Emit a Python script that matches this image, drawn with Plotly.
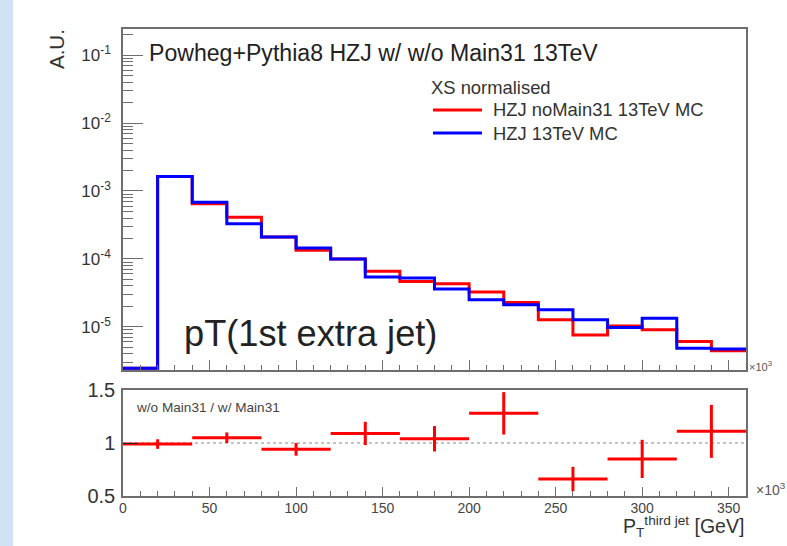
import plotly.graph_objects as go

# ---------------- data ----------------
bin_edges = [0, 20, 40, 60, 80, 100, 120, 140, 160, 180, 200, 220, 240, 260, 280, 300, 320, 340, 360]
# upper panel: normalised distributions (first bin empty -> drawn at frame bottom)
hzj_nomain31 = [2.45e-6, 1.63e-3, 6.48e-4, 4.11e-4, 2.11e-4, 1.34e-4, 1.0e-4, 6.56e-5, 4.67e-5,
                4.31e-5, 3.26e-5, 2.29e-5, 1.27e-5, 7.62e-6, 1.03e-5, 9.03e-6, 6.07e-6, 4.46e-6]
hzj_main31 = [2.45e-6, 1.63e-3, 6.85e-4, 3.29e-4, 2.11e-4, 1.45e-4, 1.0e-4, 5.42e-5, 5.24e-5,
              3.61e-5, 2.51e-5, 2.11e-5, 1.78e-5, 1.27e-5, 9.8e-6, 1.34e-5, 4.84e-6, 4.73e-6]
series_names = ["HZJ noMain31 13TeV MC", "HZJ 13TeV MC"]
series_colors = ["#ff0000", "#0000ff"]
# lower panel: ratio w/o Main31 / w/ Main31 in 40 GeV bins
ratio_x = [20, 60, 100, 140, 180, 220, 260, 300, 340]
ratio_xerr = [20, 20, 20, 20, 20, 20, 20, 20, 20]
ratio_y = [0.99, 1.05, 0.94, 1.09, 1.04, 1.28, 0.66, 0.85, 1.11]
ratio_yerr = [0.045, 0.05, 0.06, 0.11, 0.12, 0.20, 0.115, 0.18, 0.25]

y_major = [1e-5, 1e-4, 1e-3, 1e-2, 1e-1]
y_major_text = ["10<sup>-5</sup>", "10<sup>-4</sup>", "10<sup>-3</sup>", "10<sup>-2</sup>", "10<sup>-1</sup>"]
y_minor = [m * d for d in [1e-6, 1e-5, 1e-4, 1e-3, 1e-2, 1e-1] for m in range(2, 10)]
ratio_ticks = [0.5, 1, 1.5]
ratio_ticktext = ["0.5", "1", "1.5"]
x_ticks = [0, 50, 100, 150, 200, 250, 300, 350]

FONT = "Liberation Sans, Arial, sans-serif"
W, H = 787, 546
L, R, T, B = 123, 746, 29, 496


def px(x):
    return (x - L) / (R - L)


def py(y):
    return (B - y) / (B - T)


fig = go.Figure()

for vals, name, col in zip([hzj_nomain31, hzj_main31], series_names, series_colors):
    fig.add_trace(go.Scatter(x=bin_edges, y=vals + [vals[-1]], mode="lines",
                             line=dict(color=col, width=3, shape="hv"),
                             name=name, xaxis="x", yaxis="y", showlegend=False))

fig.add_trace(go.Scatter(x=ratio_x, y=ratio_y, mode="markers",
                         marker=dict(color="#ff0000", size=3),
                         error_x=dict(type="data", array=ratio_xerr, color="#ff0000", thickness=3, width=0),
                         error_y=dict(type="data", array=ratio_yerr, color="#ff0000", thickness=3, width=0),
                         showlegend=False, xaxis="x2", yaxis="y2"))

# dotted reference line at 1
fig.add_shape(type="line", xref="x2", yref="y2", x0=0, x1=360, y0=1, y1=1,
              line=dict(color="#888888", width=1, dash="dot"), layer="below")

# left light blue strip
fig.add_shape(type="rect", xref="paper", yref="paper", x0=px(0), x1=px(13), y0=py(H), y1=py(0),
              fillcolor="#cfe3f4", line=dict(width=0), layer="below")

# manual legend (ROOT TLegend style)
legend_rows_y = [110, 133]
for ly, name, col in zip(legend_rows_y, series_names, series_colors):
    fig.add_shape(type="line", xref="paper", yref="paper", x0=px(433), x1=px(482), y0=py(ly), y1=py(ly),
                  line=dict(color=col, width=3))

frame = dict(showline=True, linecolor="#6e6e6e", linewidth=1.5, mirror=True, showgrid=False,
             zeroline=False)

fig.update_layout(
    width=W, height=H,
    margin=dict(l=L, r=W - R, t=T, b=H - B, pad=0),
    paper_bgcolor="white", plot_bgcolor="white",
    font=dict(family=FONT, color="#222222"),
    xaxis=dict(domain=[0, 1], anchor="y", range=[0, 360], tickmode="array", tickvals=x_ticks,
               showticklabels=False, ticks="inside", ticklen=10, tickcolor="#6e6e6e",
               minor=dict(dtick=10, tick0=0, ticks="inside", ticklen=5, tickcolor="#6e6e6e"),
               **frame),
    yaxis=dict(domain=[py(370), 1], anchor="x", type="log", range=[-5.635, -0.616],
               tickmode="array", tickvals=y_major, ticktext=y_major_text,
               ticks="inside", ticklen=20, tickcolor="#6e6e6e", ticklabelstandoff=7,
               tickfont=dict(size=17, color="#333333"),
               minor=dict(tickmode="array", tickvals=y_minor, ticks="inside", ticklen=10,
                          tickcolor="#6e6e6e"),
               **frame),
    xaxis2=dict(domain=[0, 1], anchor="y2", range=[0, 360], tickmode="array", tickvals=x_ticks,
                ticks="inside", ticklen=9, tickcolor="#6e6e6e",
                tickfont=dict(size=14, color="#444444"), ticklabelstandoff=-2,
                minor=dict(dtick=10, tick0=0, ticks="inside", ticklen=5, tickcolor="#6e6e6e"),
                **frame),
    yaxis2=dict(domain=[0, py(390)], anchor="x2", range=[0.5, 1.5], tickmode="array",
                tickvals=ratio_ticks, ticktext=ratio_ticktext, ticks="inside", ticklen=15,
                tickcolor="#222222", tickfont=dict(size=20, color="#333333"), ticklabelstandoff=2,
                **frame),
    showlegend=False,
)

ann = [
    dict(text="Powheg+Pythia8 HZJ w/ w/o Main31 13TeV", x=px(147), y=py(53), xanchor="left",
         yanchor="middle", font=dict(size=23.1, color="#222222")),
    dict(text="pT(1st extra jet)", x=px(182), y=py(333), xanchor="left", yanchor="middle",
         font=dict(size=36.2, color="#222222")),
    dict(text="A.U.", x=px(57), y=py(27), xanchor="center", yanchor="top", textangle=-90,
         font=dict(size=20.5, color="#333333")),
    dict(text="×10<sup>3</sup>", x=px(747), y=py(366), xanchor="left", yanchor="middle",
         font=dict(size=11, color="#555555")),
    dict(text="×10<sup>3</sup>", x=px(754), y=py(489), xanchor="left", yanchor="middle",
         font=dict(size=14, color="#555555")),
    dict(text="w/o Main31 / w/ Main31", x=px(134), y=py(407), xanchor="left", yanchor="middle",
         font=dict(size=13.6, color="#444444")),
    dict(text="P<sub>T</sub><sup>third jet</sup> [GeV]", x=px(746), y=py(526), xanchor="right",
         yanchor="middle", font=dict(size=19.5, color="#333333")),
    dict(text="XS normalised", x=px(429), y=py(87), xanchor="left", yanchor="middle",
         font=dict(size=18.4, color="#333333")),
]
for ly, name in zip(legend_rows_y, series_names):
    ann.append(dict(text=name, x=px(491), y=py(ly), xanchor="left", yanchor="middle",
                    font=dict(size=18.4, color="#333333")))
for a in ann:
    a.update(xref="paper", yref="paper", showarrow=False)
fig.update_layout(annotations=ann)

fig.write_html("out.html")
